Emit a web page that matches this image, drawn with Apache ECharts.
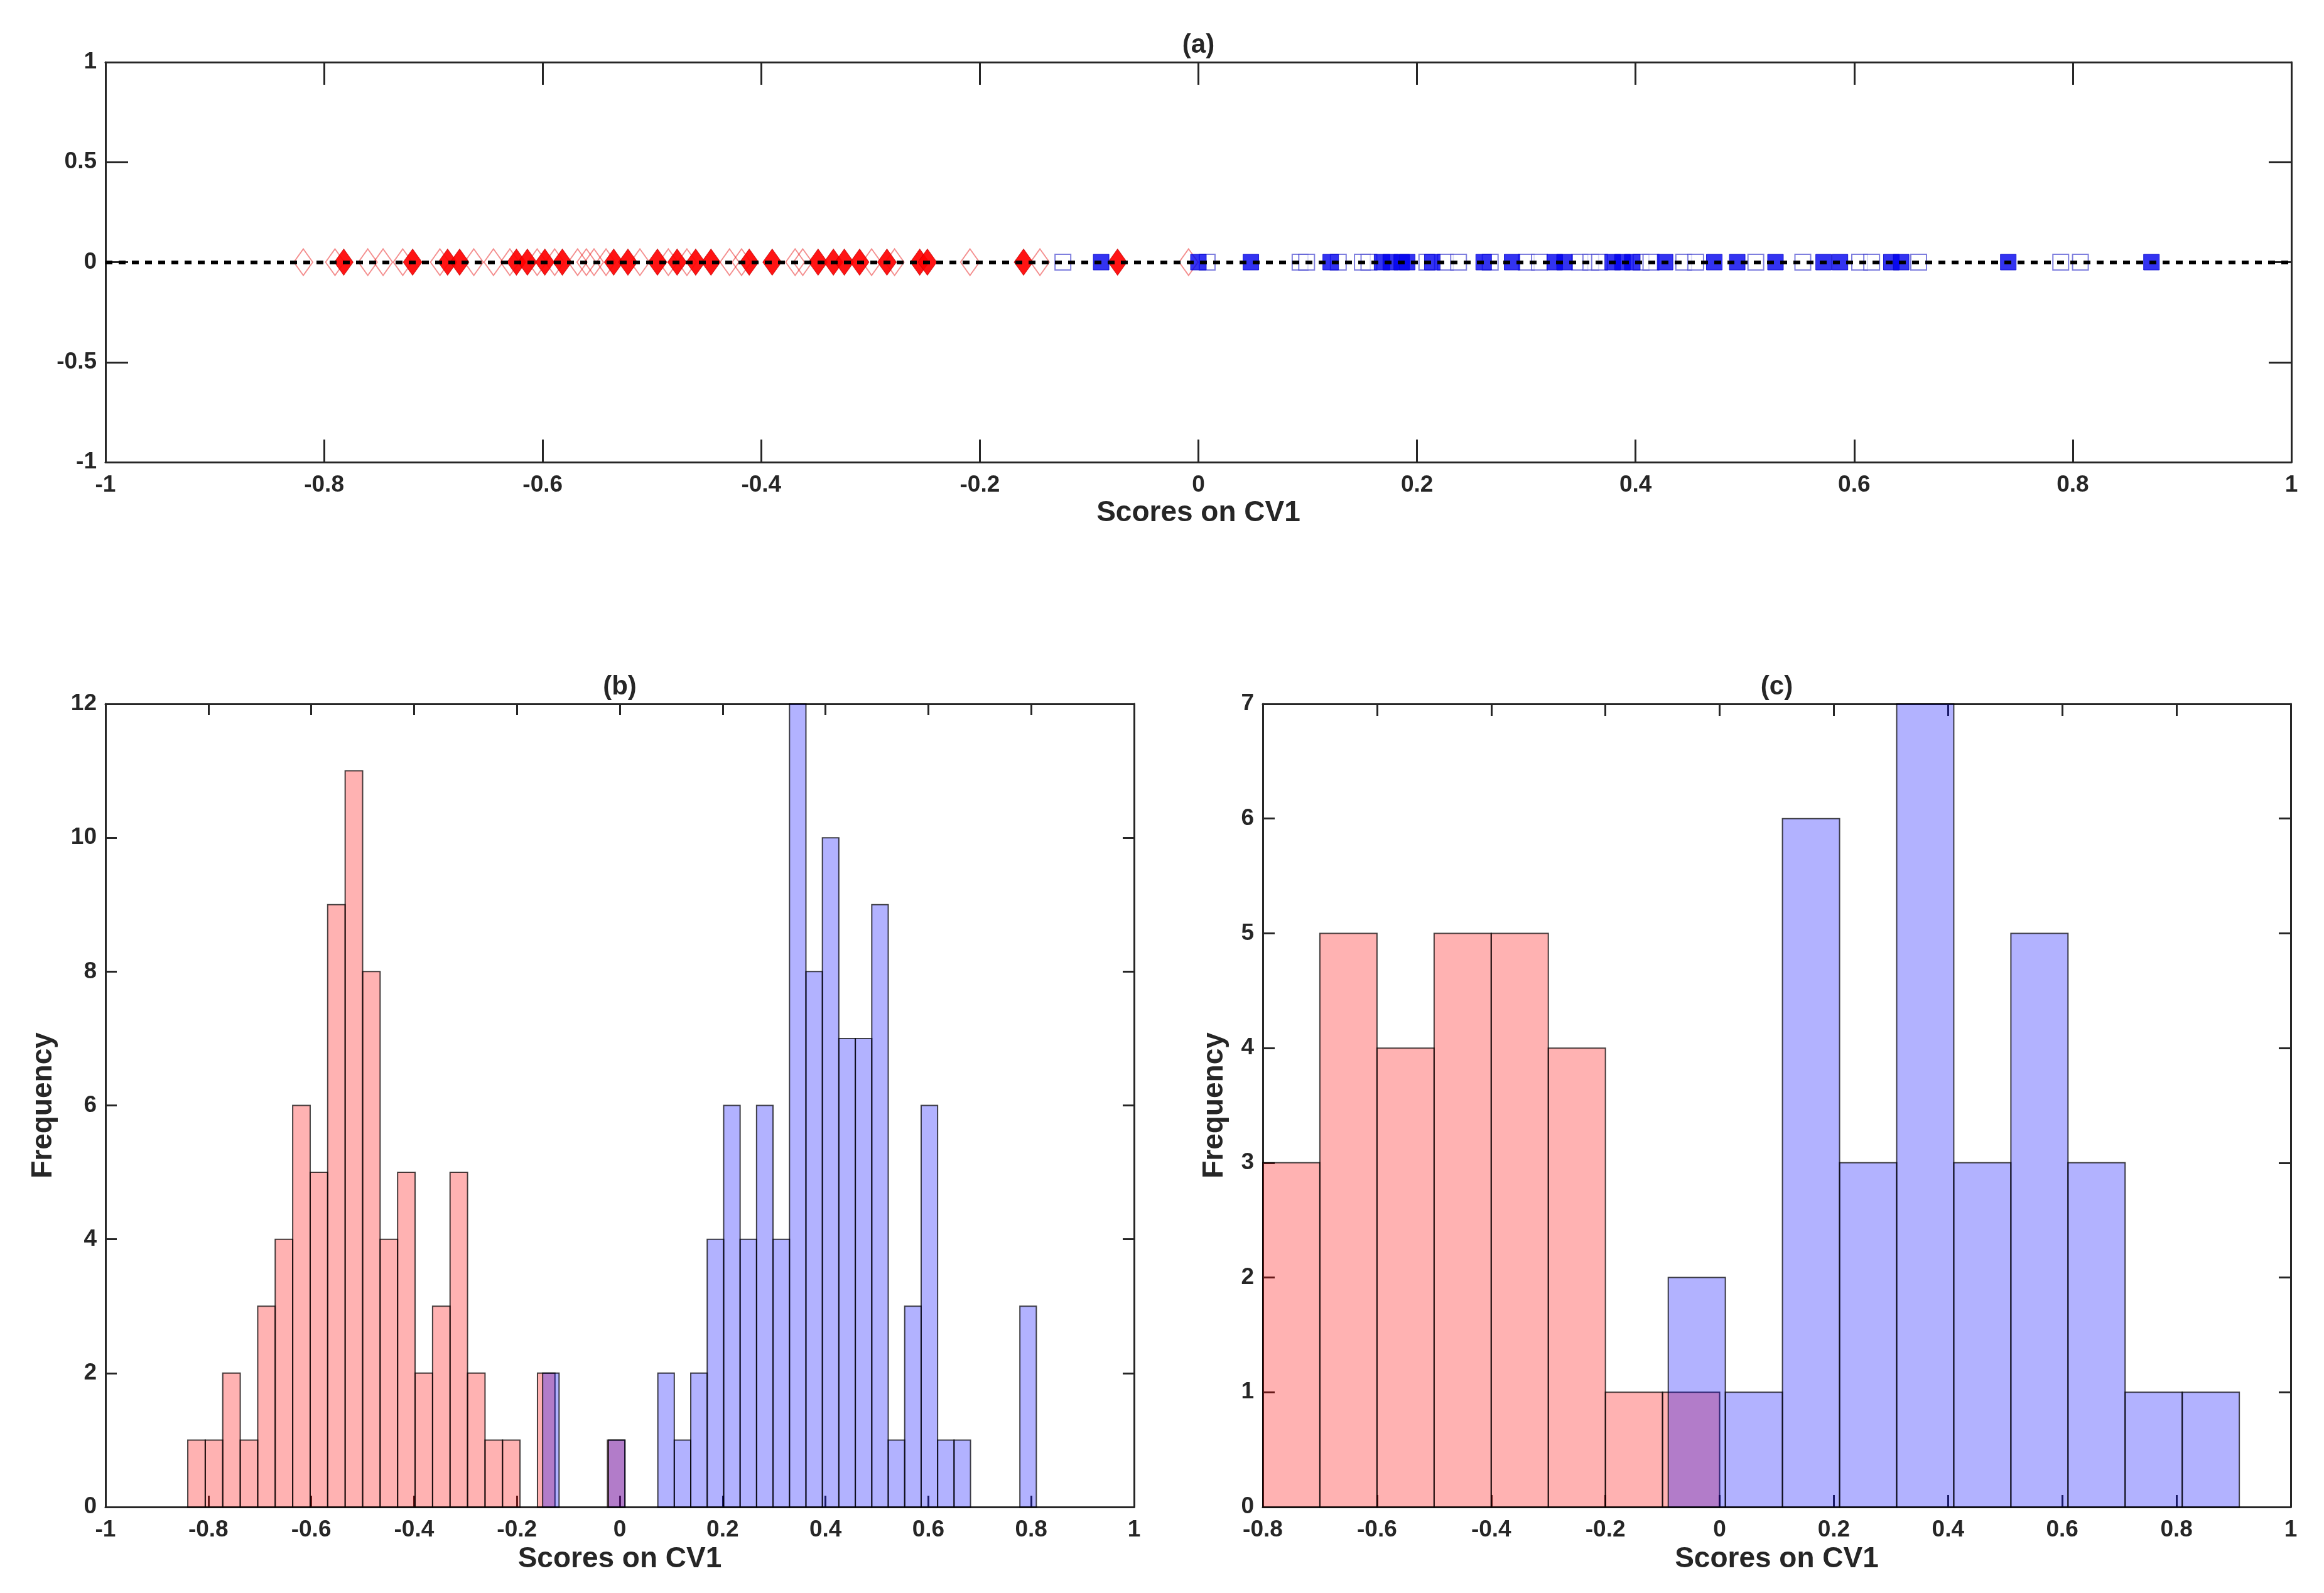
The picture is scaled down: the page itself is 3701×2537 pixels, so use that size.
<!DOCTYPE html>
<html>
<head>
    <meta charset="UTF-8">
    <title>Scores on CV1</title>
    <script src="https://cdn.jsdelivr.net/npm/echarts@6/dist/echarts.min.js"></script>
</head>
<body style="margin:0;background:#fff;">
<div id="chart" style="width:3701px;height:2537px;"></div>
<script type="text/javascript">
    // (a) scores on CV1
    var redFilled = [-0.782, -0.719, -0.687, -0.676, -0.624, -0.614, -0.598, -0.582, -0.535, -0.522,
        -0.495, -0.477, -0.460, -0.446, -0.411, -0.390, -0.348, -0.334, -0.324, -0.310,
        -0.285, -0.255, -0.248, -0.160, -0.074];
    var redHollow = [-0.819, -0.790, -0.760, -0.746, -0.728, -0.694, -0.663, -0.645, -0.630, -0.605,
        -0.589, -0.568, -0.560, -0.553, -0.542, -0.511, -0.485, -0.468, -0.429, -0.418,
        -0.369, -0.362, -0.299, -0.278, -0.209, -0.145, -0.009];
    var blueFilled = [-0.089, 0.000, 0.048, 0.121, 0.168, 0.176, 0.186, 0.191, 0.214, 0.261,
        0.287, 0.326, 0.335, 0.379, 0.388, 0.397, 0.427, 0.472, 0.493, 0.528,
        0.572, 0.587, 0.634, 0.643, 0.741, 0.872];
    var blueHollow = [-0.124, 0.008, 0.093, 0.099, 0.128, 0.150, 0.156, 0.209, 0.226, 0.238,
        0.267, 0.300, 0.312, 0.349, 0.359, 0.367, 0.405, 0.414, 0.444, 0.455,
        0.510, 0.553, 0.605, 0.616, 0.659, 0.789, 0.807];

    // (b) histogram, narrow bins
    var redBEdges = [-0.840, -0.806, -0.772, -0.738, -0.704, -0.670, -0.636, -0.602, -0.568, -0.534,
        -0.500, -0.466, -0.432, -0.398, -0.364, -0.330, -0.296, -0.262, -0.228, -0.194,
        -0.160, -0.126, -0.092, -0.058, -0.024];
    var redBWidth = 0.034;
    var redBCounts = [1, 1, 2, 1, 3, 4, 6, 5, 9, 11, 8, 4, 5, 2, 3, 5, 2, 1, 1, 0, 2, 0, 0, 0, 1];
    var blueBEdges = [-0.150, -0.118, -0.086, -0.054, -0.022, 0.010, 0.042, 0.074, 0.106, 0.138,
        0.170, 0.202, 0.234, 0.266, 0.298, 0.330, 0.362, 0.394, 0.426, 0.458,
        0.490, 0.522, 0.554, 0.586, 0.618, 0.650, 0.682, 0.714, 0.746, 0.778];
    var blueBWidth = 0.032;
    var blueBCounts = [2, 0, 0, 0, 1, 0, 0, 2, 1, 2, 4, 6, 4, 6, 4, 12, 8, 10, 7, 7, 9, 1, 3, 6, 1, 1, 0, 0, 0, 3];

    // (c) histogram, wide bins
    var redCEdges = [-0.8, -0.7, -0.6, -0.5, -0.4, -0.3, -0.2, -0.1];
    var redCWidth = 0.1;
    var redCCounts = [3, 5, 4, 5, 5, 4, 1, 1];
    var blueCEdges = [-0.09, 0.01, 0.11, 0.21, 0.31, 0.41, 0.51, 0.61, 0.71, 0.81];
    var blueCWidth = 0.1;
    var blueCCounts = [2, 1, 6, 3, 7, 3, 5, 3, 1, 1];

    var xName = 'Scores on CV1';
    var font = "'Liberation Sans', Arial, sans-serif";
    var ink = '#262626';

    var chart = echarts.init(document.getElementById('chart'), null, {width: 3701, height: 2537});

    function bins(edges, width, counts) {
        return edges.map(function (e, i) {
            return [e, e + width, counts[i]];
        });
    }

    function histRender(fill) {
        return function (params, api) {
            var h = api.value(2);
            if (!h) {
                return null;
            }
            var p0 = api.coord([api.value(0), 0]);
            var p1 = api.coord([api.value(1), h]);
            return {
                type: 'rect',
                shape: {x: p0[0], y: p1[1], width: p1[0] - p0[0], height: p0[1] - p1[1]},
                style: {fill: fill, stroke: 'rgba(0,0,0,0.72)', lineWidth: 2}
            };
        };
    }

    function points(xs) {
        return xs.map(function (x) {
            return [x, 0];
        });
    }

    var labelStyle = {color: ink, fontFamily: font, fontWeight: 'bold', fontSize: 37};
    var nameStyle = {color: ink, fontFamily: font, fontWeight: 'bold', fontSize: 46};
    var lineStyle = {color: ink, width: 3};

    function bottomAxis(grid, min, max, tickLen) {
        return {
            type: 'value', gridIndex: grid, min: min, max: max, interval: 0.2,
            name: xName, nameLocation: 'middle', nameGap: 58, nameTextStyle: nameStyle,
            axisLine: {show: true, onZero: false, lineStyle: lineStyle},
            axisTick: {show: true, inside: true, length: tickLen, lineStyle: lineStyle},
            axisLabel: Object.assign({margin: 18}, labelStyle),
            splitLine: {show: false}
        };
    }

    function topAxis(grid, min, max, tickLen, title) {
        return {
            type: 'value', gridIndex: grid, position: 'top', min: min, max: max, interval: 0.2,
            name: title, nameLocation: 'middle', nameGap: 6,
            nameTextStyle: {color: ink, fontFamily: font, fontWeight: 'bold', fontSize: 42},
            axisLine: {show: true, onZero: false, lineStyle: lineStyle},
            axisTick: {show: true, inside: true, length: tickLen, lineStyle: lineStyle},
            axisLabel: {show: false},
            splitLine: {show: false}
        };
    }

    function leftAxis(grid, min, max, interval, tickLen, name, gap) {
        return {
            type: 'value', gridIndex: grid, min: min, max: max, interval: interval,
            name: name, nameLocation: 'middle', nameGap: gap, nameTextStyle: nameStyle,
            axisLine: {show: true, onZero: false, lineStyle: lineStyle},
            axisTick: {show: true, inside: true, length: tickLen, lineStyle: lineStyle},
            axisLabel: Object.assign({margin: 14}, labelStyle),
            splitLine: {show: false}
        };
    }

    function rightAxis(grid, min, max, interval, tickLen) {
        return {
            type: 'value', gridIndex: grid, position: 'right', min: min, max: max, interval: interval,
            axisLine: {show: true, onZero: false, lineStyle: lineStyle},
            axisTick: {show: true, inside: true, length: tickLen, lineStyle: lineStyle},
            axisLabel: {show: false},
            splitLine: {show: false}
        };
    }

    var option = {
        backgroundColor: '#fff',
        animation: false,
        grid: [
            {left: 168, width: 3481, top: 99, height: 637},
            {left: 168, width: 1638, top: 1121, height: 1279},
            {left: 2011, width: 1637, top: 1121, height: 1279}
        ],
        xAxis: [
            bottomAxis(0, -1, 1, 36),
            topAxis(0, -1, 1, 36, '(a)'),
            bottomAxis(1, -1, 1, 18),
            topAxis(1, -1, 1, 18, '(b)'),
            bottomAxis(2, -0.8, 1, 19),
            topAxis(2, -0.8, 1, 19, '(c)')
        ],
        yAxis: [
            leftAxis(0, -1, 1, 0.5, 36, '', 0),
            rightAxis(0, -1, 1, 0.5, 36),
            leftAxis(1, 0, 12, 2, 18, 'Frequency', 76),
            rightAxis(1, 0, 12, 2, 18),
            leftAxis(2, 0, 7, 1, 19, 'Frequency', 54),
            rightAxis(2, 0, 7, 1, 19)
        ],
        series: [
            {
                type: 'scatter', xAxisIndex: 0, yAxisIndex: 0, symbol: 'diamond', symbolSize: [30, 42],
                itemStyle: {color: 'rgba(255,255,255,0)', borderColor: 'rgba(230,0,0,0.55)', borderWidth: 2},
                data: points(redHollow), z: 2
            },
            {
                type: 'scatter', xAxisIndex: 0, yAxisIndex: 0, symbol: 'diamond', symbolSize: [30, 42],
                itemStyle: {color: '#ff0000', borderColor: 'rgba(200,0,0,0.8)', borderWidth: 1, opacity: 0.92},
                data: points(redFilled), z: 3
            },
            {
                type: 'scatter', xAxisIndex: 0, yAxisIndex: 0, symbol: 'rect', symbolSize: 25,
                itemStyle: {color: 'rgba(255,255,255,0.9)', borderColor: 'rgba(40,40,200,0.75)', borderWidth: 2},
                data: points(blueHollow), z: 2
            },
            {
                type: 'scatter', xAxisIndex: 0, yAxisIndex: 0, symbol: 'rect', symbolSize: 25,
                itemStyle: {color: '#0000ee', borderColor: '#0000cc', borderWidth: 1},
                data: points(blueFilled), z: 3,
                markLine: {
                    silent: true, symbol: 'none', z: 10,
                    label: {show: false},
                    lineStyle: {color: '#000', width: 6, type: [11, 10], opacity: 1},
                    data: [{yAxis: 0}]
                }
            },
            {
                type: 'custom', xAxisIndex: 2, yAxisIndex: 2,
                renderItem: histRender('rgba(255,0,0,0.3)'),
                encode: {x: [0, 1], y: 2},
                data: bins(redBEdges, redBWidth, redBCounts)
            },
            {
                type: 'custom', xAxisIndex: 2, yAxisIndex: 2,
                renderItem: histRender('rgba(0,0,255,0.3)'),
                encode: {x: [0, 1], y: 2},
                data: bins(blueBEdges, blueBWidth, blueBCounts)
            },
            {
                type: 'custom', xAxisIndex: 4, yAxisIndex: 4,
                renderItem: histRender('rgba(255,0,0,0.3)'),
                encode: {x: [0, 1], y: 2},
                data: bins(redCEdges, redCWidth, redCCounts)
            },
            {
                type: 'custom', xAxisIndex: 4, yAxisIndex: 4,
                renderItem: histRender('rgba(0,0,255,0.3)'),
                encode: {x: [0, 1], y: 2},
                data: bins(blueCEdges, blueCWidth, blueCCounts)
            }
        ]
    };
    chart.setOption(option);
</script>
</body>
</html>
